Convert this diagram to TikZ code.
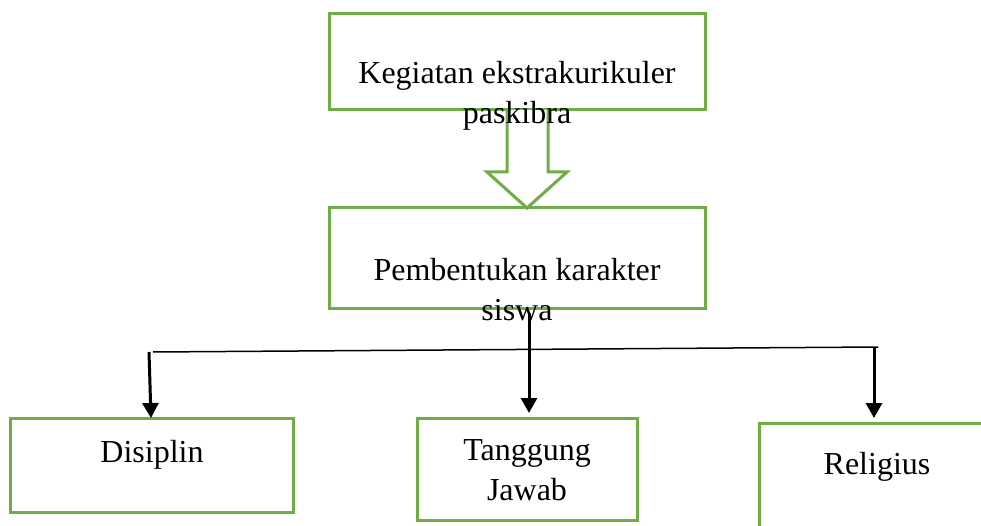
\documentclass[tikz,border=0pt]{standalone}
\usepackage{fontspec}
\setmainfont{Liberation Serif}
\usetikzlibrary{arrows.meta}
\definecolor{boxgreen}{HTML}{70AD47}
\begin{document}
\begin{tikzpicture}[x=1pt,y=-1pt,
  gbox/.style={draw=boxgreen,line width=3pt},
  lbl/.style={font=\fontsize{32}{40}\selectfont,align=center,inner sep=0pt},
  conn/.style={black,line width=3pt,-{Triangle[length=15pt,width=16pt]}},
  thin/.style={black,line width=1.5pt}]
\useasboundingbox (0,0) rectangle (981,526);
% boxes
\draw[gbox] (329,14) rectangle (705,110);
\draw[gbox] (329,208) rectangle (705,308);
\draw[gbox] (10,418) rectangle (293,512);
\draw[gbox] (417,418) rectangle (637,520);
\draw[gbox] (759,423) rectangle (990,540);
% hollow block arrow
\draw[boxgreen,line width=3pt,fill=white,line join=miter] (507,110) -- (507,172) -- (487,172) -- (527,208) -- (567,172) -- (548,172) -- (548,110);
% labels
\node[lbl] (t1) at (517,96) {Kegiatan ekstrakurikuler\\paskibra};
\node[lbl] (t2) at (517,290) {Pembentukan karakter\\siswa};
\node[lbl] (t3) at (152,455) {Disiplin};
\node[lbl] (t4) at (527,470) {Tanggung\\Jawab};
\node[lbl] (t5) at (877,467) {Religius};
% connectors
\coordinate (hl) at (153,352);
\coordinate (hr) at (878,347);
\coordinate (c0) at (529,313);
\coordinate (c1) at (529,413);
\coordinate (l0) at (149,352);
\coordinate (l1) at (151,418);
\coordinate (r0) at (874,347);
\coordinate (r1) at (874,418);
\draw[thin] (hl) -- (hr);
\draw[conn] (c0) -- (c1);
\draw[conn] (l0) -- (l1);
\draw[conn] (r0) -- (r1);
\end{tikzpicture}
\end{document}
